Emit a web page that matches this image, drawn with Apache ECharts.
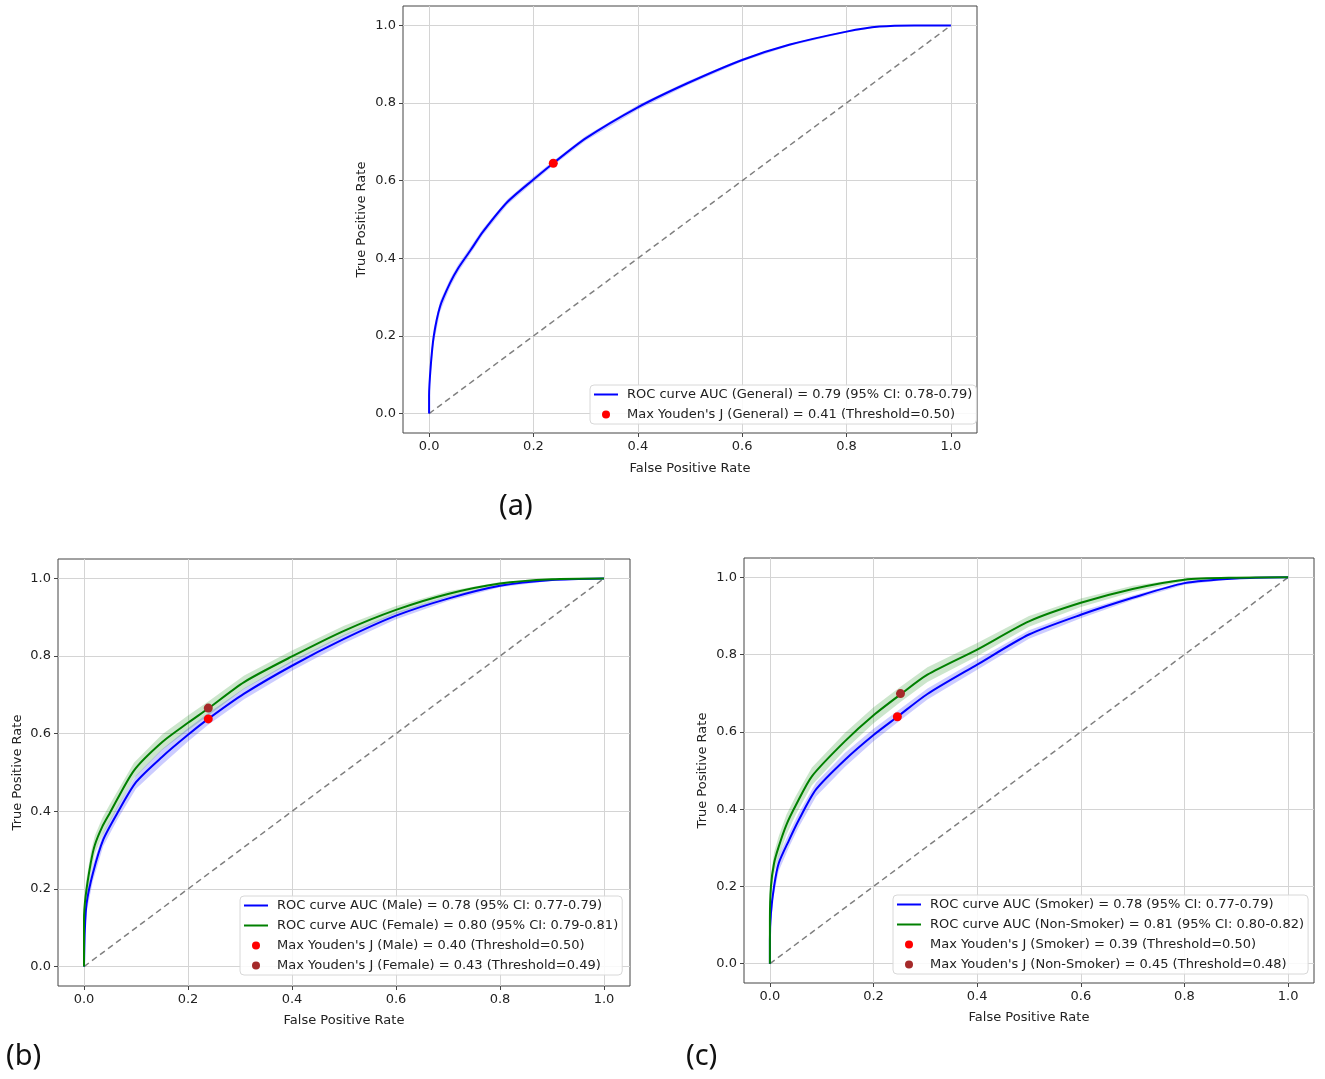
<!DOCTYPE html>
<html>
<head>
<meta charset="utf-8">
<title>ROC curves</title>
<script src="https://cdn.jsdelivr.net/npm/echarts@6/dist/echarts.min.js"></script>
<style>
  html, body { margin: 0; padding: 0; background: #fff; }
  #chart { width: 1325px; height: 1079px; }
</style>
</head>
<body>
<div id="chart"></div>
<script>
// tick values shared by every panel
var tickValues = [0, 0.2, 0.4, 0.6, 0.8, 1.0];

// (a) General
var fprGeneral = [0, 0.0, 0.003, 0.009, 0.021, 0.04, 0.056, 0.08, 0.103, 0.15, 0.2, 0.238, 0.3, 0.4, 0.495, 0.6, 0.69, 0.8, 0.863, 0.93, 1.0];
var tprGeneral = [0, 0.045, 0.12, 0.2, 0.276, 0.336, 0.375, 0.422, 0.468, 0.545, 0.603, 0.645, 0.709, 0.789, 0.851, 0.911, 0.95, 0.984, 0.997, 1.0, 1.0];
var lowGeneral = [0, 0.03, 0.1, 0.18, 0.262, 0.325, 0.365, 0.413, 0.46, 0.538, 0.596, 0.639, 0.703, 0.783, 0.846, 0.907, 0.947, 0.982, 0.996, 1.0, 1.0];
var highGeneral = [0, 0.06, 0.14, 0.22, 0.29, 0.347, 0.385, 0.431, 0.476, 0.552, 0.61, 0.651, 0.715, 0.795, 0.856, 0.915, 0.953, 0.986, 0.998, 1.0, 1.0];
var youdenGeneral = [0.238, 0.645];

// (b) Male / Female
var fprMale = [0, 0.0016, 0.005, 0.017, 0.037, 0.064, 0.1, 0.15, 0.2, 0.239, 0.308, 0.4, 0.5, 0.6, 0.7, 0.8, 0.9, 1.0];
var tprMale = [0, 0.094, 0.163, 0.24, 0.327, 0.395, 0.475, 0.54, 0.597, 0.638, 0.703, 0.775, 0.844, 0.904, 0.948, 0.981, 0.996, 1.0];
var lowMale = [0, 0.07, 0.14, 0.22, 0.31, 0.378, 0.458, 0.52, 0.58, 0.623, 0.689, 0.762, 0.833, 0.895, 0.942, 0.977, 0.994, 1.0];
var highMale = [0, 0.12, 0.19, 0.262, 0.345, 0.412, 0.492, 0.56, 0.614, 0.653, 0.717, 0.788, 0.855, 0.913, 0.954, 0.985, 0.998, 1.0];
var youdenMale = [0.239, 0.638];

var fprFemale = [0, 0.0, 0.003, 0.013, 0.021, 0.035, 0.049, 0.096, 0.15, 0.2, 0.239, 0.308, 0.4, 0.5, 0.6, 0.7, 0.8, 0.9, 1.0];
var tprFemale = [0, 0.12, 0.18, 0.267, 0.314, 0.36, 0.394, 0.505, 0.578, 0.628, 0.665, 0.733, 0.799, 0.865, 0.919, 0.96, 0.987, 0.998, 1.0];
var lowFemale = [0, 0.09, 0.15, 0.24, 0.29, 0.338, 0.372, 0.485, 0.558, 0.609, 0.647, 0.716, 0.784, 0.852, 0.909, 0.953, 0.983, 0.997, 1.0];
var highFemale = [0, 0.15, 0.21, 0.294, 0.338, 0.382, 0.416, 0.525, 0.598, 0.647, 0.683, 0.75, 0.814, 0.878, 0.929, 0.967, 0.991, 0.999, 1.0];
var youdenFemale = [0.239, 0.666];

// (c) Smoker / Non-Smoker
var fprSmoker = [0, 0.0, 0.002, 0.008, 0.017, 0.037, 0.055, 0.089, 0.145, 0.2, 0.246, 0.304, 0.4, 0.5, 0.6, 0.7, 0.8, 0.9, 1.0];
var tprSmoker = [0, 0.06, 0.131, 0.2, 0.26, 0.32, 0.37, 0.451, 0.528, 0.592, 0.639, 0.698, 0.774, 0.852, 0.903, 0.947, 0.985, 0.997, 1.0];
var lowSmoker = [0, 0.04, 0.11, 0.18, 0.24, 0.302, 0.352, 0.433, 0.51, 0.576, 0.624, 0.684, 0.761, 0.841, 0.894, 0.941, 0.981, 0.996, 1.0];
var highSmoker = [0, 0.08, 0.15, 0.22, 0.28, 0.338, 0.388, 0.469, 0.546, 0.608, 0.654, 0.712, 0.787, 0.863, 0.912, 0.953, 0.989, 0.998, 1.0];
var youdenSmoker = [0.246, 0.639];

var fprNonSmoker = [0, 0.0, 0.002, 0.008, 0.017, 0.032, 0.05, 0.081, 0.145, 0.2, 0.252, 0.304, 0.4, 0.5, 0.6, 0.7, 0.8, 0.9, 1.0];
var tprNonSmoker = [0, 0.114, 0.2, 0.26, 0.303, 0.36, 0.41, 0.485, 0.576, 0.643, 0.697, 0.748, 0.813, 0.886, 0.934, 0.97, 0.994, 0.999, 1.0];
var lowNonSmoker = [0, 0.08, 0.17, 0.232, 0.276, 0.334, 0.386, 0.462, 0.554, 0.622, 0.677, 0.729, 0.796, 0.872, 0.923, 0.962, 0.99, 0.998, 1.0];
var highNonSmoker = [0, 0.15, 0.23, 0.288, 0.33, 0.386, 0.434, 0.508, 0.598, 0.664, 0.717, 0.767, 0.83, 0.9, 0.945, 0.978, 0.997, 1.0, 1.0];
var youdenNonSmoker = [0.252, 0.699];

var chanceLine = [[0, 0], [1, 1]];

// legend texts
var nameGeneral = "ROC curve AUC (General) = 0.79 (95% CI: 0.78-0.79)";
var nameGeneralJ = "Max Youden's J (General) = 0.41 (Threshold=0.50)";
var nameMale = "ROC curve AUC (Male) = 0.78 (95% CI: 0.77-0.79)";
var nameFemale = "ROC curve AUC (Female) = 0.80 (95% CI: 0.79-0.81)";
var nameMaleJ = "Max Youden's J (Male) = 0.40 (Threshold=0.50)";
var nameFemaleJ = "Max Youden's J (Female) = 0.43 (Threshold=0.49)";
var nameSmoker = "ROC curve AUC (Smoker) = 0.78 (95% CI: 0.77-0.79)";
var nameNonSmoker = "ROC curve AUC (Non-Smoker) = 0.81 (95% CI: 0.80-0.82)";
var nameSmokerJ = "Max Youden's J (Smoker) = 0.39 (Threshold=0.50)";
var nameNonSmokerJ = "Max Youden's J (Non-Smoker) = 0.45 (Threshold=0.48)";

var BLUE = "#0000ff";
var GREEN = "#008000";
var RED = "#ff0000";
var BROWN = "#a52a2a";
var FONT = "DejaVu Sans";
var FS = 13;

function zip(xs, ys) {
  return xs.map(function (x, i) { return [x, ys[i]]; });
}

function bandSeries(idx, fpr, low, high, fill) {
  var pts = [];
  for (var i = 0; i < fpr.length; i++) pts.push([fpr[i], high[i]]);
  for (var j = fpr.length - 1; j >= 0; j--) pts.push([fpr[j], low[j]]);
  return {
    type: "custom",
    xAxisIndex: idx,
    yAxisIndex: idx,
    silent: true,
    z: 2,
    data: pts,
    renderItem: function (params, api) {
      if (params.dataIndex !== 0) return null;
      return {
        type: "polygon",
        shape: { points: pts.map(function (p) { return api.coord(p); }) },
        style: { fill: fill },
      };
    },
  };
}

function rocSeries(idx, name, fpr, tpr, color) {
  return {
    type: "line",
    name: name,
    xAxisIndex: idx,
    yAxisIndex: idx,
    data: zip(fpr, tpr),
    symbol: "none",
    smooth: 0.25,
    z: 3,
    lineStyle: { color: color, width: 2 },
    itemStyle: { color: color },
  };
}

function dotSeries(idx, name, pt, color) {
  return {
    type: "scatter",
    name: name,
    xAxisIndex: idx,
    yAxisIndex: idx,
    data: [pt],
    symbol: "circle",
    symbolSize: 9,
    z: 5,
    itemStyle: { color: color, opacity: 1 },
  };
}

function chanceSeries(idx) {
  return {
    type: "line",
    xAxisIndex: idx,
    yAxisIndex: idx,
    data: chanceLine,
    symbol: "none",
    silent: true,
    z: 2,
    lineStyle: { color: "#808080", width: 1.5, type: [6, 4] },
  };
}

function labelStyle() {
  return {
    customValues: tickValues,
    margin: 7,
    fontFamily: FONT,
    fontSize: FS,
    color: "#222",
    formatter: function (v) { return v.toFixed(1); },
  };
}

function xAxisFor(idx, gap) {
  return {
    type: "value",
    gridIndex: idx,
    min: -0.05,
    max: 1.05,
    name: "False Positive Rate",
    nameLocation: "middle",
    nameGap: gap,
    nameTextStyle: { fontFamily: FONT, fontSize: FS, color: "#222" },
    axisLine: { show: false, onZero: false },
    axisTick: { show: true, length: 4, customValues: tickValues, lineStyle: { color: "#444" } },
    axisLabel: labelStyle(),
    splitLine: { show: true, lineStyle: { color: "#d4d4d4", width: 1 } },
  };
}

function yAxisFor(idx, gap) {
  return {
    type: "value",
    gridIndex: idx,
    min: -0.05,
    max: 1.05,
    name: "True Positive Rate",
    nameLocation: "middle",
    nameGap: gap,
    nameTextStyle: { fontFamily: FONT, fontSize: FS, color: "#222" },
    axisLine: { show: false, onZero: false },
    axisTick: { show: true, length: 4, customValues: tickValues, lineStyle: { color: "#444" } },
    axisLabel: labelStyle(),
    splitLine: { show: true, lineStyle: { color: "#d4d4d4", width: 1 } },
  };
}

function lineItem(name) {
  // hide the marker that line series draw in the middle of their legend icon
  return { name: name, itemStyle: { opacity: 0 } };
}

function dotItem(name) {
  return { name: name, icon: "circle" };
}

function legendFor(left, top, items) {
  return {
    orient: "vertical",
    left: left,
    top: top,
    data: items,
    itemWidth: 24,
    itemHeight: 8,
    itemGap: 7,
    padding: [3, 4, 3, 3],
    backgroundColor: "rgba(255,255,255,0.85)",
    borderColor: "#d8d8d8",
    borderWidth: 1,
    borderRadius: 4,
    selectedMode: false,
    textStyle: { fontFamily: FONT, fontSize: FS, color: "#222", padding: [0, 0, 0, 4] },
  };
}

var chart = echarts.init(document.getElementById("chart"), null, { renderer: "canvas" });

var option = {
  animation: false,
  backgroundColor: "#fff",
  grid: [
    { left: 403, top: 6, width: 574, height: 427, show: true, borderColor: "#444", borderWidth: 1, backgroundColor: "transparent" },
    { left: 58, top: 559, width: 572, height: 427, show: true, borderColor: "#444", borderWidth: 1, backgroundColor: "transparent" },
    { left: 744, top: 558, width: 570, height: 425, show: true, borderColor: "#444", borderWidth: 1, backgroundColor: "transparent" },
  ],
  xAxis: [xAxisFor(0, 29), xAxisFor(1, 28), xAxisFor(2, 28)],
  yAxis: [yAxisFor(0, 35), yAxisFor(1, 34), yAxisFor(2, 35)],
  legend: [
    legendFor(590, 385, [lineItem(nameGeneral), dotItem(nameGeneralJ)]),
    legendFor(240, 896, [lineItem(nameMale), lineItem(nameFemale), dotItem(nameMaleJ), dotItem(nameFemaleJ)]),
    legendFor(893, 895, [lineItem(nameSmoker), lineItem(nameNonSmoker), dotItem(nameSmokerJ), dotItem(nameNonSmokerJ)]),
  ],
  graphic: [
    { type: "text", left: 499, top: 492, style: { text: "(a)", font: "29px 'Noto Sans'", fill: "#111" } },
    { type: "text", left: 6, top: 1042, style: { text: "(b)", font: "29px 'Noto Sans'", fill: "#111" } },
    { type: "text", left: 686, top: 1042, style: { text: "(c)", font: "29px 'Noto Sans'", fill: "#111" } },
  ],
  series: [
    // (a)
    bandSeries(0, fprGeneral, lowGeneral, highGeneral, "rgba(0,0,255,0.2)"),
    rocSeries(0, nameGeneral, fprGeneral, tprGeneral, BLUE),
    chanceSeries(0),
    dotSeries(0, nameGeneralJ, youdenGeneral, RED),
    // (b)
    bandSeries(1, fprMale, lowMale, highMale, "rgba(0,0,255,0.2)"),
    rocSeries(1, nameMale, fprMale, tprMale, BLUE),
    bandSeries(1, fprFemale, lowFemale, highFemale, "rgba(0,128,0,0.2)"),
    rocSeries(1, nameFemale, fprFemale, tprFemale, GREEN),
    chanceSeries(1),
    dotSeries(1, nameMaleJ, youdenMale, RED),
    dotSeries(1, nameFemaleJ, youdenFemale, BROWN),
    // (c)
    bandSeries(2, fprSmoker, lowSmoker, highSmoker, "rgba(0,0,255,0.2)"),
    rocSeries(2, nameSmoker, fprSmoker, tprSmoker, BLUE),
    bandSeries(2, fprNonSmoker, lowNonSmoker, highNonSmoker, "rgba(0,128,0,0.2)"),
    rocSeries(2, nameNonSmoker, fprNonSmoker, tprNonSmoker, GREEN),
    chanceSeries(2),
    dotSeries(2, nameSmokerJ, youdenSmoker, RED),
    dotSeries(2, nameNonSmokerJ, youdenNonSmoker, BROWN),
  ],
};

chart.setOption(option);
</script>
</body>
</html>
